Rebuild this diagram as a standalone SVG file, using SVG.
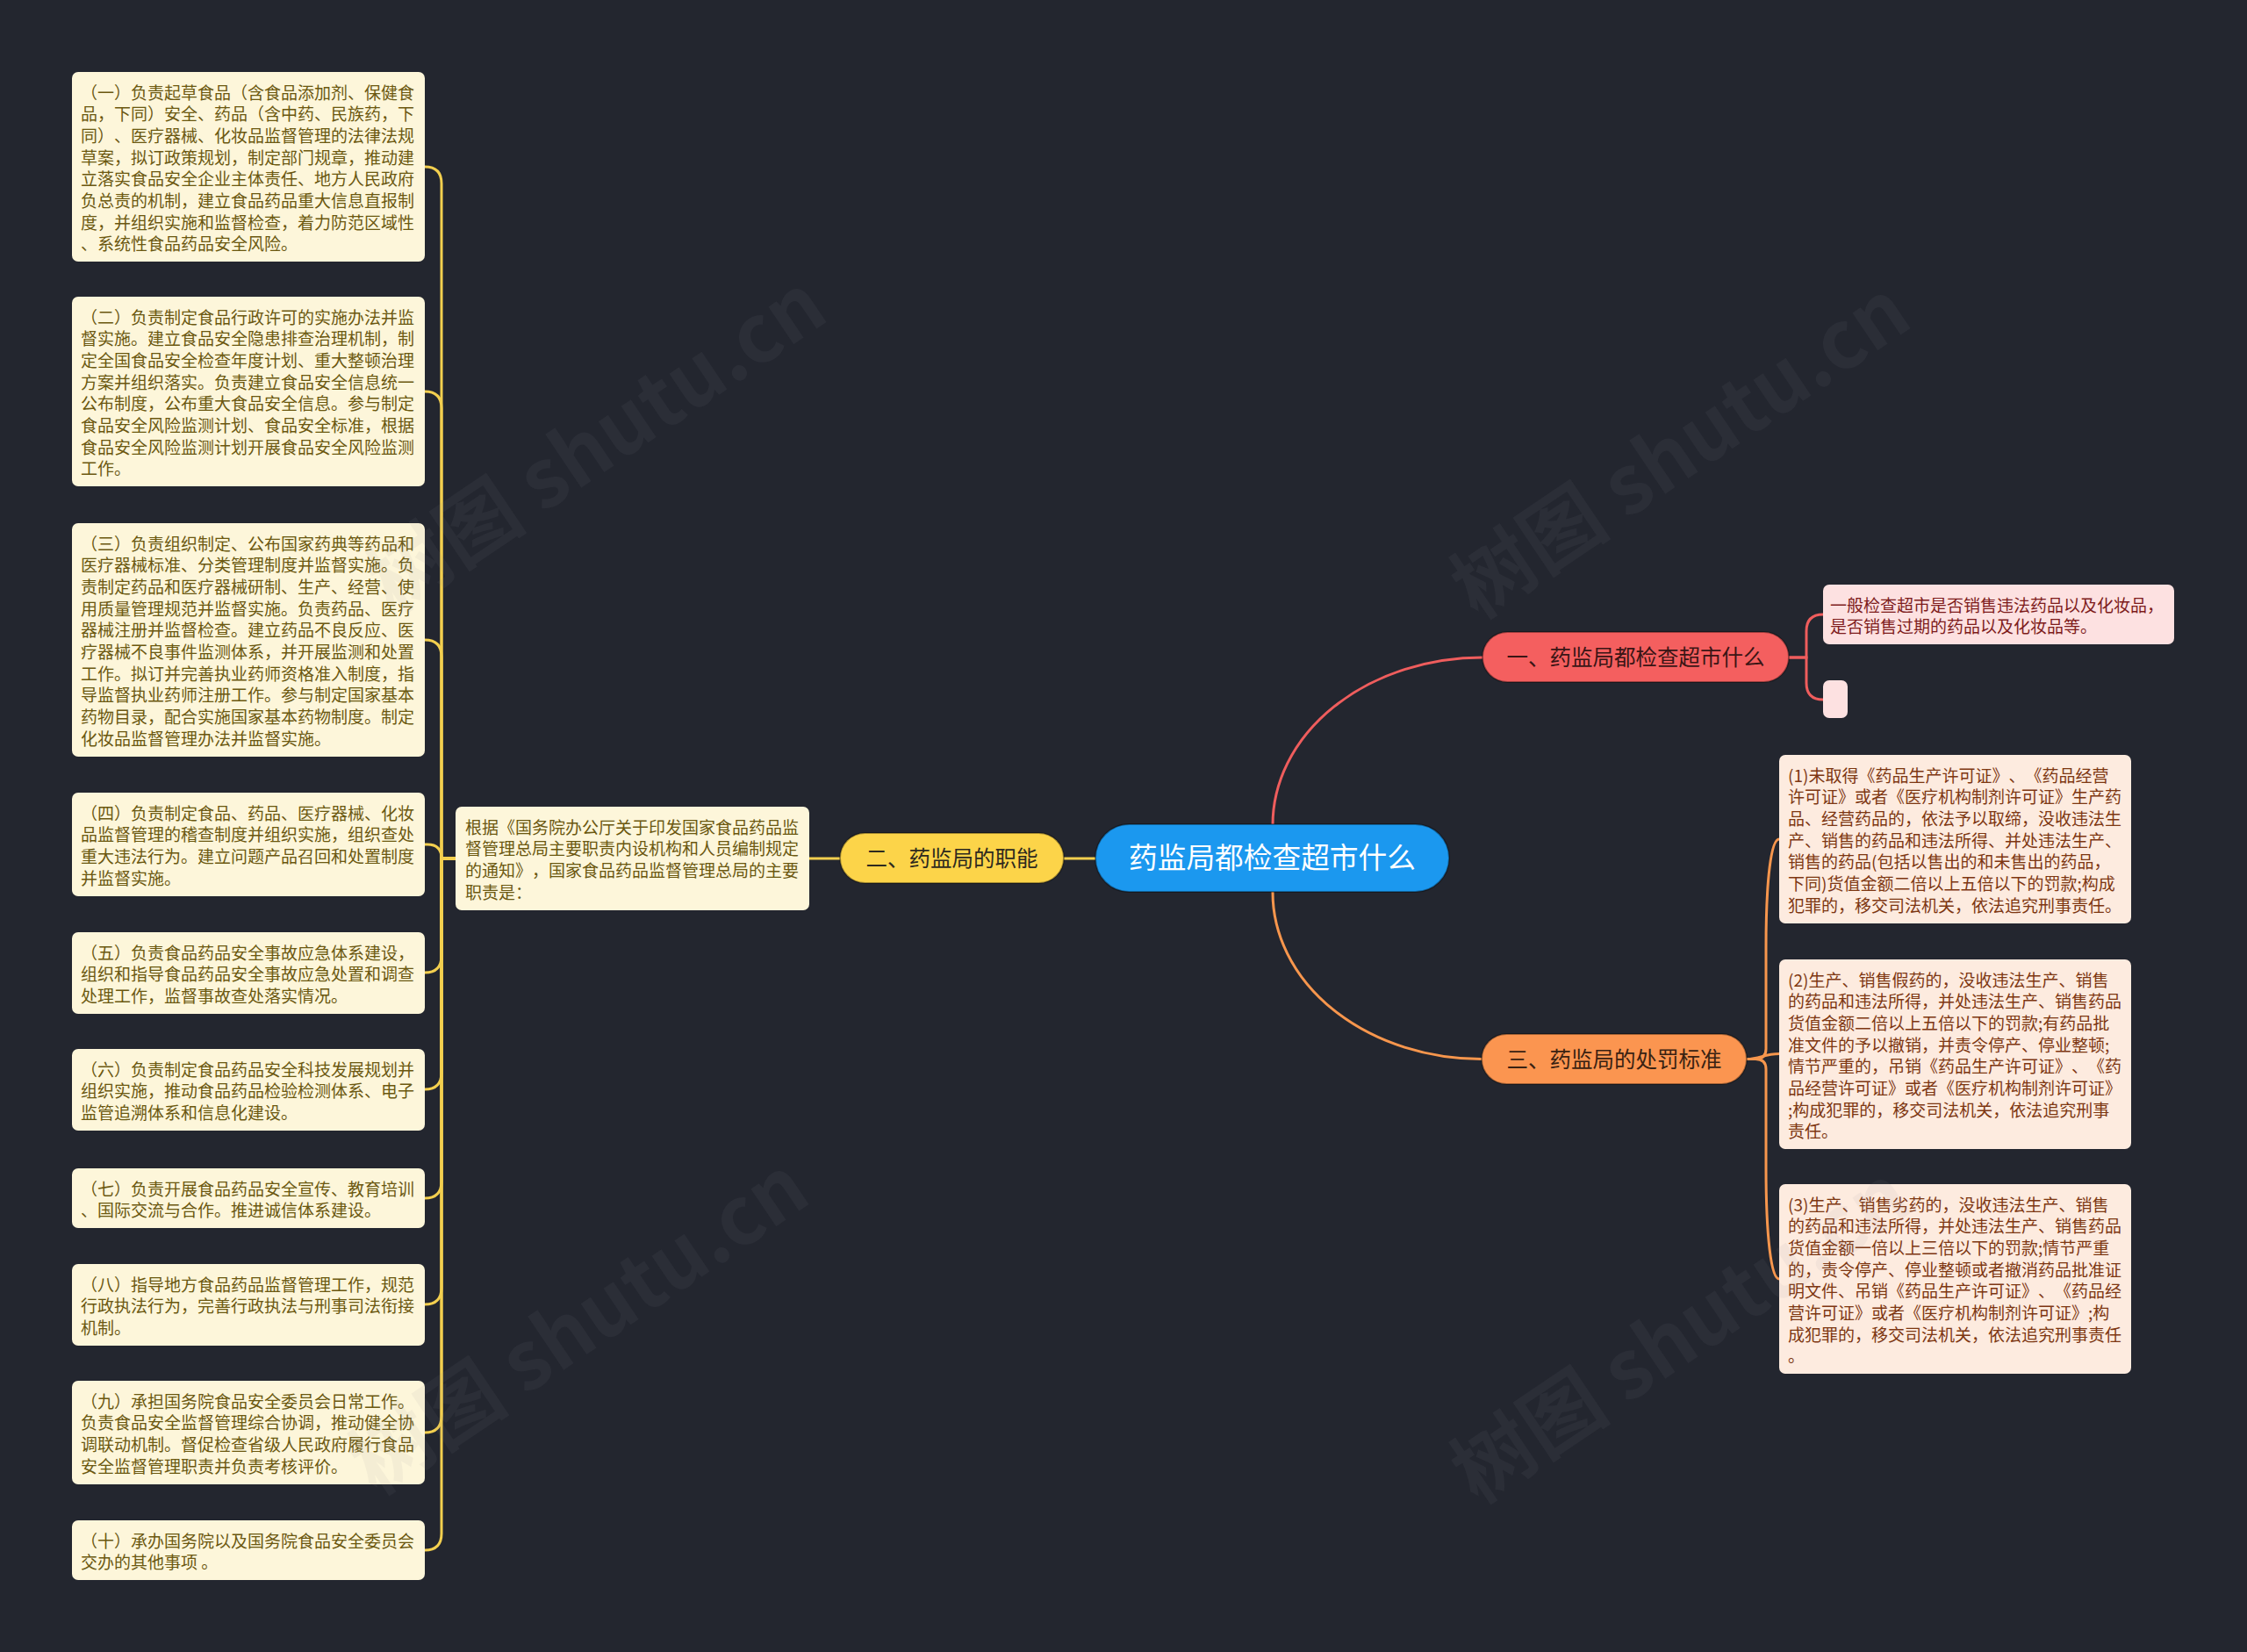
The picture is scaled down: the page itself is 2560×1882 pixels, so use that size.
<svg xmlns="http://www.w3.org/2000/svg" width="2560" height="1882" viewBox="0 0 2560 1882">
<style>
  .t { font-family: "Noto Sans CJK SC", "Noto Sans", sans-serif; font-feature-settings: "chws" 0, "halt" 0, "palt" 0; text-spacing-trim: space-all; }
  .it rect { fill: #fdf6da; }
  .it text { fill: #6b5810; font-size: 19px; }
  .or rect { fill: #fdebdf; }
  .or text { fill: #7d3712; font-size: 19px; }
  .rd rect { fill: #fde1e1; }
  .rd text { fill: #7e1c1c; font-size: 19px; }
  .pill { stroke: rgba(0,0,0,0.35); stroke-width: 2; }
  .cy { fill: none; stroke: #f3cf4f; stroke-width: 3; }
  .cr { fill: none; stroke: #ef5d5d; stroke-width: 3; }
  .co { fill: none; stroke: #f7964d; stroke-width: 3; }
  .wm { font-family: "Noto Sans CJK SC", "Noto Sans", sans-serif; font-size: 92px; font-weight: bold; fill: #8a8d99; fill-opacity: 0.08; }
</style>
<rect x="0" y="0" width="2560" height="1882" fill="#23262f"/>

<g id="connectors">
  <path class="cr" d="M1450,940 A239,191 0 0 1 1689,749"/>
  <path class="co" d="M1450,1016 A238,190 0 0 0 1688,1206.5"/>
  <path class="cy" d="M1248,978 H1212"/>
  <path class="cy" d="M957,978 H922"/>
  <path class="cy" d="M519,978 H503 V209 Q503,190 484,190"/>
  <path class="cy" d="M519,978 H503 V465 Q503,446 484,446"/>
  <path class="cy" d="M519,978 H503 V748 Q503,729 484,729"/>
  <path class="cy" d="M519,978 H503 Q503,962 487,962 H484"/>
  <path class="cy" d="M519,978 H503 V1089 Q503,1108 484,1108"/>
  <path class="cy" d="M519,978 H503 V1222 Q503,1241 484,1241"/>
  <path class="cy" d="M519,978 H503 V1346 Q503,1365 484,1365"/>
  <path class="cy" d="M519,978 H503 V1467 Q503,1486 484,1486"/>
  <path class="cy" d="M519,978 H503 V1613 Q503,1632 484,1632"/>
  <path class="cy" d="M519,978 H503 V1747 Q503,1766 484,1766"/>
  <path class="cr" d="M2038,749 H2058 V719 Q2058,700 2077,700"/>
  <path class="cr" d="M2038,749 H2058 V778 Q2058,797 2077,797"/>
  <path class="co" d="M1990,1206.5 H2000 Q2012,1206.5 2012,1195 V1080 C2012,1000 2018,956 2027,956"/>
  <path class="co" d="M1990,1206.5 C2005,1206.5 2010,1200.5 2027,1200.5"/>
  <path class="co" d="M1990,1206.5 H2000 Q2012,1206.5 2012,1218 V1330 C2012,1410 2018,1457 2027,1457"/>
</g>

<g id="root">
  <rect class="pill" x="1248" y="939" width="403" height="77" rx="38.5" fill="#1b98ef"/>
  <text class="t" x="1449.5" y="989" font-size="32.7" fill="#ffffff" text-anchor="middle">药监局都检查超市什么</text>
</g>

<g id="branch1">
  <rect class="pill" x="1689" y="720" width="349" height="57" rx="28.5" fill="#f45f5f"/>
  <text class="t" x="1863.5" y="757.5" font-size="24.5" fill="#3a1515" text-anchor="middle">一、药监局都检查超市什么</text>
</g>

<g id="branch2">
  <rect class="pill" x="957" y="949" width="255" height="57" rx="28.5" fill="#fcd449"/>
  <text class="t" x="1084.5" y="986.5" font-size="24.5" fill="#2e2a1e" text-anchor="middle">二、药监局的职能</text>
</g>

<g id="branch3">
  <rect class="pill" x="1688" y="1178" width="302" height="57" rx="28.5" fill="#fb9550"/>
  <text class="t" x="1839" y="1215.5" font-size="24.5" fill="#3a2212" text-anchor="middle">三、药监局的处罚标准</text>
</g>

<g id="red-leaf1" class="rd" transform="translate(2077,666)">
  <rect x="0" y="0" width="400" height="68" rx="7"/>
  <text class="t"><tspan x="8" y="30.5">一般检查超市是否销售违法药品以及化妆品，</tspan><tspan x="8" dy="24.7">是否销售过期的药品以及化妆品等。</tspan></text>
</g>

<g id="red-leaf2" class="rd" transform="translate(2077,775)">
  <rect x="0" y="0" width="28" height="43" rx="7"/>
</g>

<g id="intro" class="it" transform="translate(519,919)">
  <rect x="0" y="0" width="403" height="118" rx="7"/>
  <text class="t"><tspan x="11" y="30.5">根据《国务院办公厅关于印发国家食品药品监</tspan><tspan x="11" dy="24.7">督管理总局主要职责内设机构和人员编制规定</tspan><tspan x="11" dy="24.7">的通知》，国家食品药品监督管理总局的主要</tspan><tspan x="11" dy="24.7">职责是：</tspan></text>
</g>

<g id="item1" class="it" transform="translate(82,82)">
  <rect x="0" y="0" width="402" height="216" rx="7"/>
  <text class="t"><tspan x="10" y="30.5">（一）负责起草食品（含食品添加剂、保健食</tspan><tspan x="10" dy="24.7">品，下同）安全、药品（含中药、民族药，下</tspan><tspan x="10" dy="24.7">同）、医疗器械、化妆品监督管理的法律法规</tspan><tspan x="10" dy="24.7">草案，拟订政策规划，制定部门规章，推动建</tspan><tspan x="10" dy="24.7">立落实食品安全企业主体责任、地方人民政府</tspan><tspan x="10" dy="24.7">负总责的机制，建立食品药品重大信息直报制</tspan><tspan x="10" dy="24.7">度，并组织实施和监督检查，着力防范区域性</tspan><tspan x="10" dy="24.7">、系统性食品药品安全风险。</tspan></text>
</g>

<g id="item2" class="it" transform="translate(82,338)">
  <rect x="0" y="0" width="402" height="216" rx="7"/>
  <text class="t"><tspan x="10" y="30.5">（二）负责制定食品行政许可的实施办法并监</tspan><tspan x="10" dy="24.7">督实施。建立食品安全隐患排查治理机制，制</tspan><tspan x="10" dy="24.7">定全国食品安全检查年度计划、重大整顿治理</tspan><tspan x="10" dy="24.7">方案并组织落实。负责建立食品安全信息统一</tspan><tspan x="10" dy="24.7">公布制度，公布重大食品安全信息。参与制定</tspan><tspan x="10" dy="24.7">食品安全风险监测计划、食品安全标准，根据</tspan><tspan x="10" dy="24.7">食品安全风险监测计划开展食品安全风险监测</tspan><tspan x="10" dy="24.7">工作。</tspan></text>
</g>

<g id="item3" class="it" transform="translate(82,596)">
  <rect x="0" y="0" width="402" height="266" rx="7"/>
  <text class="t"><tspan x="10" y="30.5">（三）负责组织制定、公布国家药典等药品和</tspan><tspan x="10" dy="24.7">医疗器械标准、分类管理制度并监督实施。负</tspan><tspan x="10" dy="24.7">责制定药品和医疗器械研制、生产、经营、使</tspan><tspan x="10" dy="24.7">用质量管理规范并监督实施。负责药品、医疗</tspan><tspan x="10" dy="24.7">器械注册并监督检查。建立药品不良反应、医</tspan><tspan x="10" dy="24.7">疗器械不良事件监测体系，并开展监测和处置</tspan><tspan x="10" dy="24.7">工作。拟订并完善执业药师资格准入制度，指</tspan><tspan x="10" dy="24.7">导监督执业药师注册工作。参与制定国家基本</tspan><tspan x="10" dy="24.7">药物目录，配合实施国家基本药物制度。制定</tspan><tspan x="10" dy="24.7">化妆品监督管理办法并监督实施。</tspan></text>
</g>

<g id="item4" class="it" transform="translate(82,903)">
  <rect x="0" y="0" width="402" height="118" rx="7"/>
  <text class="t"><tspan x="10" y="30.5">（四）负责制定食品、药品、医疗器械、化妆</tspan><tspan x="10" dy="24.7">品监督管理的稽查制度并组织实施，组织查处</tspan><tspan x="10" dy="24.7">重大违法行为。建立问题产品召回和处置制度</tspan><tspan x="10" dy="24.7">并监督实施。</tspan></text>
</g>

<g id="item5" class="it" transform="translate(82,1062)">
  <rect x="0" y="0" width="402" height="93" rx="7"/>
  <text class="t"><tspan x="10" y="30.5">（五）负责食品药品安全事故应急体系建设，</tspan><tspan x="10" dy="24.7">组织和指导食品药品安全事故应急处置和调查</tspan><tspan x="10" dy="24.7">处理工作，监督事故查处落实情况。</tspan></text>
</g>

<g id="item6" class="it" transform="translate(82,1195)">
  <rect x="0" y="0" width="402" height="93" rx="7"/>
  <text class="t"><tspan x="10" y="30.5">（六）负责制定食品药品安全科技发展规划并</tspan><tspan x="10" dy="24.7">组织实施，推动食品药品检验检测体系、电子</tspan><tspan x="10" dy="24.7">监管追溯体系和信息化建设。</tspan></text>
</g>

<g id="item7" class="it" transform="translate(82,1331)">
  <rect x="0" y="0" width="402" height="68" rx="7"/>
  <text class="t"><tspan x="10" y="30.5">（七）负责开展食品药品安全宣传、教育培训</tspan><tspan x="10" dy="24.7">、国际交流与合作。推进诚信体系建设。</tspan></text>
</g>

<g id="item8" class="it" transform="translate(82,1440)">
  <rect x="0" y="0" width="402" height="93" rx="7"/>
  <text class="t"><tspan x="10" y="30.5">（八）指导地方食品药品监督管理工作，规范</tspan><tspan x="10" dy="24.7">行政执法行为，完善行政执法与刑事司法衔接</tspan><tspan x="10" dy="24.7">机制。</tspan></text>
</g>

<g id="item9" class="it" transform="translate(82,1573)">
  <rect x="0" y="0" width="402" height="118" rx="7"/>
  <text class="t"><tspan x="10" y="30.5">（九）承担国务院食品安全委员会日常工作。</tspan><tspan x="10" dy="24.7">负责食品安全监督管理综合协调，推动健全协</tspan><tspan x="10" dy="24.7">调联动机制。督促检查省级人民政府履行食品</tspan><tspan x="10" dy="24.7">安全监督管理职责并负责考核评价。</tspan></text>
</g>

<g id="item10" class="it" transform="translate(82,1732)">
  <rect x="0" y="0" width="402" height="68" rx="7"/>
  <text class="t"><tspan x="10" y="30.5">（十）承办国务院以及国务院食品安全委员会</tspan><tspan x="10" dy="24.7">交办的其他事项 。</tspan></text>
</g>

<g id="penalty1" class="or" transform="translate(2027,860)">
  <rect x="0" y="0" width="401" height="192" rx="7"/>
  <text class="t"><tspan x="10" y="30.5">(1)未取得《药品生产许可证》、《药品经营</tspan><tspan x="10" dy="24.7">许可证》或者《医疗机构制剂许可证》生产药</tspan><tspan x="10" dy="24.7">品、经营药品的，依法予以取缔，没收违法生</tspan><tspan x="10" dy="24.7">产、销售的药品和违法所得、并处违法生产、</tspan><tspan x="10" dy="24.7">销售的药品(包括以售出的和未售出的药品，</tspan><tspan x="10" dy="24.7">下同)货值金额二倍以上五倍以下的罚款;构成</tspan><tspan x="10" dy="24.7">犯罪的，移交司法机关，依法追究刑事责任。</tspan></text>
</g>

<g id="penalty2" class="or" transform="translate(2027,1093)">
  <rect x="0" y="0" width="401" height="216" rx="7"/>
  <text class="t"><tspan x="10" y="30.5">(2)生产、销售假药的，没收违法生产、销售</tspan><tspan x="10" dy="24.7">的药品和违法所得，并处违法生产、销售药品</tspan><tspan x="10" dy="24.7">货值金额二倍以上五倍以下的罚款;有药品批</tspan><tspan x="10" dy="24.7">准文件的予以撤销，并责令停产、停业整顿;</tspan><tspan x="10" dy="24.7">情节严重的，吊销《药品生产许可证》、《药</tspan><tspan x="10" dy="24.7">品经营许可证》或者《医疗机构制剂许可证》</tspan><tspan x="10" dy="24.7">;构成犯罪的，移交司法机关，依法追究刑事</tspan><tspan x="10" dy="24.7">责任。</tspan></text>
</g>

<g id="penalty3" class="or" transform="translate(2027,1349)">
  <rect x="0" y="0" width="401" height="216" rx="7"/>
  <text class="t"><tspan x="10" y="30.5">(3)生产、销售劣药的，没收违法生产、销售</tspan><tspan x="10" dy="24.7">的药品和违法所得，并处违法生产、销售药品</tspan><tspan x="10" dy="24.7">货值金额一倍以上三倍以下的罚款;情节严重</tspan><tspan x="10" dy="24.7">的，责令停产、停业整顿或者撤消药品批准证</tspan><tspan x="10" dy="24.7">明文件、吊销《药品生产许可证》、《药品经</tspan><tspan x="10" dy="24.7">营许可证》或者《医疗机构制剂许可证》;构</tspan><tspan x="10" dy="24.7">成犯罪的，移交司法机关，依法追究刑事责任</tspan><tspan x="10" dy="24.7">。</tspan></text>
</g>

<g id="watermark">
  <text class="wm" x="680" y="537" text-anchor="middle" transform="rotate(-34 680 505)">树图 shutu.cn</text>
  <text class="wm" x="1915" y="544" text-anchor="middle" transform="rotate(-34 1915 512)">树图 shutu.cn</text>
  <text class="wm" x="660" y="1542" text-anchor="middle" transform="rotate(-34 660 1510)">树图 shutu.cn</text>
  <text class="wm" x="1915" y="1552" text-anchor="middle" transform="rotate(-34 1915 1520)">树图 shutu.cn</text>
</g>
</svg>
